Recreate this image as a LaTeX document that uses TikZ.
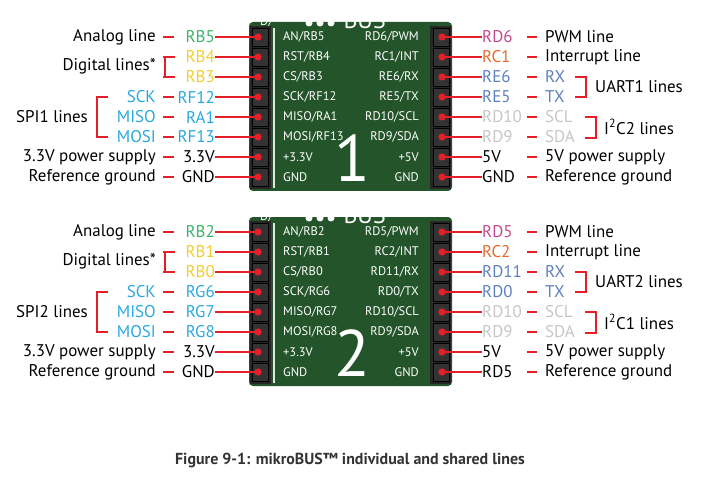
\documentclass[tikz,border=0pt]{standalone}
\usepackage{fontspec}
\setmainfont{PT Sans}
\usepackage{tikz}
\usetikzlibrary{arrows.meta, calc, positioning}
\definecolor{pinred}{HTML}{E3202A}
\definecolor{boardgreen}{HTML}{24542A}
\definecolor{anagreen}{HTML}{3DB36B}
\definecolor{digyellow}{HTML}{F2CF2E}
\definecolor{spicyan}{HTML}{2AA8DF}
\definecolor{pwmpink}{HTML}{C4488E}
\definecolor{intorange}{HTML}{E66A2C}
\definecolor{uartblue}{HTML}{5E80BF}
\definecolor{i2cgray}{HTML}{C6C6C6}
\tikzset{
  lbl/.style={font=\fontsize{17}{19}\selectfont, inner sep=0pt},
  brd/.style={font=\fontsize{12.5}{14}\selectfont, text=white, inner sep=0pt},
  wire/.style={pinred, line width=2.2pt},
  tick/.style={pinred, line width=2.2pt},
  bracket/.style={pinred, line width=2.2pt},
  pinbox/.style={fill=black!80, draw=black},
}
\newcommand{\mbboard}[8]{% #1 shift, #2 number, #3 left pins, #4 left board, #5 right pins, #6 right board, #7 spi, #8 i2c index
\begin{scope}[yshift=-#1]
  % board
  \fill[boardgreen, rounded corners=4] (249,22) rectangle (452,191);
  \begin{scope}
    \clip (249,22) rectangle (452,191);
    \foreach \dx in {309,320,331} \fill[white] (\dx,23) circle (3.5);
    \node[font=\fontsize{24}{24}\selectfont, text=white, anchor=west] at (340,20) {BUS};
    \node[brd, anchor=west] at (260,22) {D/};
  \end{scope}
  \fill[black!85] (250,26) rectangle (271,189);
  \fill[black!85] (430,26) rectangle (451,189);
  \draw[white!80!gray, line width=1.2pt] (274,28) -- (274,188);
  \node[font=\fontsize{66}{66}\selectfont, text=white] (num#2) at (352,158) {#2};
  % left pins
  \foreach \pin/\col [count=\i] in {#3} {
    \pgfmathsetmacro{\py}{37+20*(\i-1)}
    \draw[pinbox] (252,\py-9) rectangle (268,\py+9);
    \coordinate (ld#2\i) at (258,\py);
    \node[lbl, text=\col, anchor=east] (lp#2\i) at (215,\py) {\pin};
    \draw[wire] (lp#2\i.east) -- (ld#2\i);
    \fill[pinred] (ld#2\i) circle (3.6);
    \draw[tick] (163,\py) -- (174,\py);
  }
  \foreach \txt [count=\i] in {#4} {
    \node[brd, anchor=west] (lb#2\i) at (283,37+20*\i-20) {\txt};
  }
  % right pins
  \foreach \pin/\col [count=\i] in {#5} {
    \pgfmathsetmacro{\py}{37+20*(\i-1)}
    \draw[pinbox] (433,\py-9) rectangle (449,\py+9);
    \coordinate (rd#2\i) at (442,\py);
    \node[lbl, text=\col, anchor=west] (rp#2\i) at (482,\py) {\pin};
    \draw[wire] (rd#2\i) -- (rp#2\i.west);
    \fill[pinred] (rd#2\i) circle (3.6);
    \draw[tick] (527,\py) -- (537,\py);
  }
  \foreach \txt [count=\i] in {#6} {
    \node[brd, anchor=east] (rb#2\i) at (419,37+20*\i-20) {\txt};
  }
  % left texts
  \node[lbl, anchor=east] (ana#2) at (156,37) {Analog line};
  \node[lbl, anchor=east] (dig#2) at (156,66) {Digital lines*};
  \draw[bracket] (175,57) -- (165,57) -- (165,77) -- (175,77);
  \node[lbl, text=spicyan, anchor=east] (sck#2) at (156,97) {SCK};
  \node[lbl, text=spicyan, anchor=east] (miso#2) at (156,117) {MISO};
  \node[lbl, text=spicyan, anchor=east] (mosi#2) at (156,137) {MOSI};
  \draw[bracket] (108,97) -- (97,97) -- (97,137) -- (108,137);
  \node[lbl, anchor=east] (spi#2) at (88,117) {SPI#7 lines};
  \node[lbl, anchor=east] (pw#2) at (156,157) {3.3V power supply};
  \node[lbl, anchor=east] (gl#2) at (156,177) {Reference ground};
  % right texts
  \node[lbl, anchor=west] (pwm#2) at (545,37) {PWM line};
  \node[lbl, anchor=west] (int#2) at (545,57) {Interrupt line};
  \node[lbl, text=uartblue, anchor=west] (rx#2) at (545,77) {RX};
  \node[lbl, text=uartblue, anchor=west] (tx#2) at (545,97) {TX};
  \draw[bracket] (575,77) -- (586,77) -- (586,97) -- (575,97);
  \node[lbl, anchor=west] (uart#2) at (595,87) {UART#2 lines};
  \node[lbl, text=i2cgray, anchor=west] (scl#2) at (545,117) {SCL};
  \node[lbl, text=i2cgray, anchor=west] (sda#2) at (545,137) {SDA};
  \draw[bracket] (585,117) -- (596,117) -- (596,138) -- (585,138);
  \node[lbl, anchor=west] (i2c#2) at (604,127) {I\textsuperscript{2}C#8 lines};
  \node[lbl, anchor=west] (pr#2) at (545,157) {5V power supply};
  \node[lbl, anchor=west] (gr#2) at (545,177) {Reference ground};
\end{scope}
}

\begin{document}
\begin{tikzpicture}[x=1bp, y=-1bp]
  \useasboundingbox (0,0) rectangle (702,480);
  \fill[white] (0,0) rectangle (702,480);

  \mbboard{0bp}{1}
    {RB5/anagreen, RB4/digyellow, RB3/digyellow, RF12/spicyan, RA1/spicyan, RF13/spicyan, 3.3V/black, GND/black}
    {AN/RB5, RST/RB4, CS/RB3, SCK/RF12, MISO/RA1, MOSI/RF13, +3.3V, GND}
    {RD6/pwmpink, RC1/intorange, RE6/uartblue, RE5/uartblue, RD10/i2cgray, RD9/i2cgray, 5V/black, GND/black}
    {RD6/PWM, RC1/INT, RE6/RX, RE5/TX, RD10/SCL, RD9/SDA, +5V, GND}
    {1}{2}

  \mbboard{195bp}{2}
    {RB2/anagreen, RB1/digyellow, RB0/digyellow, RG6/spicyan, RG7/spicyan, RG8/spicyan, 3.3V/black, GND/black}
    {AN/RB2, RST/RB1, CS/RB0, SCK/RG6, MISO/RG7, MOSI/RG8, +3.3V, GND}
    {RD5/pwmpink, RC2/intorange, RD11/uartblue, RD0/uartblue, RD10/i2cgray, RD9/i2cgray, 5V/black, RD5/black}
    {RD5/PWM, RC2/INT, RD11/RX, RD0/TX, RD10/SCL, RD9/SDA, +5V, GND}
    {2}{1}

  \node[font=\bfseries\fontsize{16}{18}\selectfont, text=black!80] (cap) at (350,460)
    {Figure 9-1: mikroBUS\texttrademark{} individual and shared lines};
\end{tikzpicture}
\end{document}
